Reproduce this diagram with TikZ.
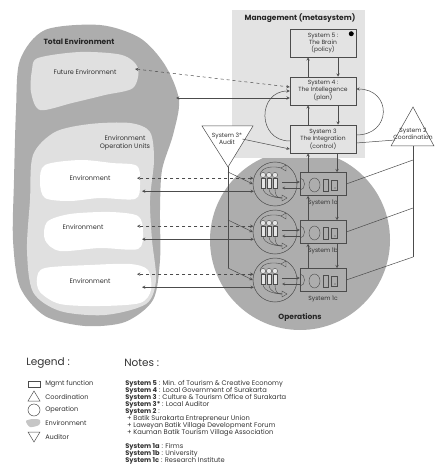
\documentclass[tikz,border=0pt]{standalone}
\usepackage{fontspec}
\setmainfont{Poppins}
\usepackage{tikz}

\definecolor{envdark}{gray}{0.68}
\definecolor{envlight}{gray}{0.88}
\definecolor{mgmtbg}{gray}{0.89}
\definecolor{linegray}{gray}{0.3}
\definecolor{textgray}{gray}{0.2}

\begin{document}
\begin{tikzpicture}[x=1pt, y=-1pt, node distance=48pt, line width=0.5pt,
    font=\fontsize{6}{7}\selectfont, text=textgray]

    % Define styles
    \tikzstyle{mgmt} = [rectangle, draw=linegray, minimum width=66pt, minimum height=28pt, align=center, inner sep=1pt]
    \tikzstyle{sysone} = [rectangle, draw=linegray, minimum width=46pt, minimum height=23pt]
    \tikzstyle{opunit} = [circle, draw=linegray, minimum size=44pt, inner sep=0pt]
    \tikzstyle{heading} = [font=\fontsize{7.5}{8}\selectfont\bfseries, text=black!85]
    \tikzstyle{envtext} = [font=\fontsize{6.5}{7.5}\selectfont, align=center]
    \tikzstyle{legendtext} = [anchor=west, inner sep=0pt, font=\fontsize{6.6}{7}\selectfont]
    \tikzstyle{arrow} = [draw=linegray, ->, >=stealth]
    \tikzstyle{dual} = [draw=linegray, <->, >=stealth]
    \tikzstyle{link} = [draw=linegray]

    \useasboundingbox (0,0) rectangle (434,465);

    % Total environment and its parts
    \fill[envdark] plot[smooth cycle] coordinates {(45,30) (100,25) (140,38) (165,65) (179,100) (173,135)
        (162,170) (160,210) (160,260) (153,300) (125,322) (85,326) (45,316) (20,287) (13,240) (14,180) (16,110) (20,60)};
    \fill[envlight] plot[smooth cycle] coordinates {(38,58) (80,52) (122,55) (138,68) (133,88) (105,95)
        (72,103) (40,110) (31,92) (32,70)};
    \fill[envlight] plot[smooth cycle] coordinates {(55,132) (90,124) (130,123) (150,132) (154,160) (150,200)
        (152,240) (156,280) (146,304) (105,315) (60,311) (33,292) (27,250) (30,200) (33,155)};
    \fill[white] plot[smooth cycle] coordinates {(45,165) (80,160) (112,163) (137,166) (140,185) (135,199)
        (100,198) (70,201) (45,198) (40,182)};
    \fill[white] plot[smooth cycle] coordinates {(70,214) (110,212) (138,216) (143,232) (138,249) (100,248)
        (60,251) (45,240) (47,222)};
    \fill[white] plot[smooth cycle] coordinates {(45,268) (90,265) (130,264) (148,270) (151,290) (140,303)
        (100,306) (60,304) (40,292) (37,278)};

    \node[heading] (totlbl) at (79,42) {Total Environment};
    \node[envtext] (fut) at (85,72) {Future Environment};
    \node[envtext] (eou) at (125,143) {Environment\\Operation Units};
    \node[envtext] (envA) at (90,178) {Environment};
    \node[envtext] (envB) at (83,227) {Environment};
    \node[envtext] (envC) at (90,281) {Environment};

    % Operations and management backgrounds
    \fill[envdark] (300,240) circle (90pt);
    \fill[mgmtbg] (232,10) rectangle (365,158);
    \node[heading] (mgmtlbl) at (300,18) {Management (metasystem)};
    \node[heading] (opslbl) at (300,317) {Operations};

    % Nodes
    \node[mgmt] (sfive) at (323,43) {System 5 :\\The Brain\\(policy)};
    \node[mgmt, below of=sfive] (sfour) {System 4 :\\The Intellegence\\(plan)};
    \node[mgmt, below of=sfour] (sthree) {System 3\\The Integration\\(control)};
    \fill[black] ([xshift=-5pt,yshift=-5pt]sfive.north east) circle (2.5pt);

    \node[sysone] (sysA) at (323,184) {};
    \node[sysone, below of=sysA] (sysB) {};
    \node[sysone, below of=sysB] (sysC) {};
    \node[opunit, left of=sysA] (opA) {};
    \node[opunit, left of=sysB] (opB) {};
    \node[opunit, left of=sysC] (opC) {};
    \node[below of=sysA, node distance=19pt] (lblA) {System 1a};
    \node[below of=sysB, node distance=19pt] (lblB) {System 1b};
    \node[below of=sysC, node distance=19pt] (lblC) {System 1c};

    % Small drawings inside the operation units
    \foreach \u/\s in {opA/sysA, opB/sysB, opC/sysC} {
        \begin{scope}[shift={(\u.center)}, draw=linegray, line width=0.4pt]
            \foreach \dx in {-12,-6,0} {
                \draw (\dx,4) .. controls (\dx,12) and (2,14) .. (7,14);
                \filldraw[fill=gray!20] (\dx,-9) circle (2.6pt);
                \filldraw[fill=gray!20] (\dx-2.2,-6) rectangle (\dx+2.2,4);
            }
            \draw (-15,-9) .. controls (-14,-18) and (0,-18) .. (6,-16);
            \draw (6,-16) -- (11,-19) -- (11,-13) -- cycle;
            \draw (12,14) -- (7,11) -- (7,17) -- cycle;
        \end{scope}
        \begin{scope}[shift={(\s.center)}, draw=linegray, line width=0.4pt]
            \draw (-23,-6) .. controls (-17,-6) and (-17,6) .. (-23,6);
            \draw (-8.5,1) ellipse (5.5pt and 7pt);
            \draw (0,-5) rectangle (5,7);
            \draw (8,-4) rectangle (14,6);
            \fill[linegray] (12,4) circle (0.7pt);
        \end{scope}
        \draw[arrow, line width=0.4pt] ([xshift=7pt,yshift=2pt]\u.center) -- ([yshift=2pt]\s.west);
        \draw[arrow, line width=0.4pt] ([yshift=-4pt]\s.west) -- ([xshift=7pt,yshift=-4pt]\u.center);
    }

    % Auditor and coordination
    \coordinate (audTL) at (202,126);
    \coordinate (audTR) at (253,126);
    \coordinate (audTip) at (228,167);
    \filldraw[fill=white, draw=linegray] (audTL) -- (audTR) -- (audTip) -- cycle;
    \node[align=center, inner sep=0pt] (audit) at (227,139) {System 3*\\Audit};

    \coordinate (coApex) at (413,107);
    \coordinate (coL) at (391,146);
    \coordinate (coR) at (434,146);
    \filldraw[fill=white, draw=linegray] (coApex) -- (coR) -- (coL) -- cycle;
    \node[align=center, inner sep=0pt] (coord) at (413,134) {System 2\\Coordination};

    \coordinate (aud1) at (228,172);
    \coordinate (aud2) at (228,220);
    \coordinate (aud3) at (228,268);
    \coordinate (coBase) at (413,146);
    \coordinate (coIn) at (395,140);
    \coordinate (co1) at (413,160);
    \coordinate (co2) at (413,208);
    \coordinate (co3) at (413,257);

    \coordinate (futR) at (135,69);
    \coordinate (totR) at (176,98);
    \coordinate (envdash) at (137,179);
    \coordinate (envsolid) at (142,191);

    % Arrows
    \draw[arrow] ([xshift=-15pt]sfour.north) -- ([xshift=-15pt]sfive.south);
    \draw[arrow] ([xshift=15pt]sfive.south) -- ([xshift=15pt]sfour.north);
    \draw[arrow] ([xshift=-15pt]sthree.north) -- ([xshift=-15pt]sfour.south);
    \draw[arrow] ([xshift=15pt]sfour.south) -- ([xshift=15pt]sthree.north);
    \draw[arrow] ([xshift=-15pt]sysA.north) -- ([xshift=-15pt]sthree.south);
    \draw[arrow] ([xshift=14pt]sthree.south) -- ([xshift=14pt]sysA.north);
    \draw[arrow] ([xshift=-15pt]sysB.north) -- ([xshift=-15pt]sysA.south);
    \draw[arrow] ([xshift=14pt]sysA.south) -- ([xshift=14pt]sysB.north);
    \draw[arrow] ([xshift=-15pt]sysC.north) -- ([xshift=-15pt]sysB.south);
    \draw[arrow] ([xshift=14pt]sysB.south) -- ([xshift=14pt]sysC.north);

    \draw[arrow] ([yshift=-2pt]sthree.west) .. controls (257,141) and (257,91) .. (sfour.west);
    \draw[arrow] ([yshift=4pt]sthree.east) .. controls (392,135) and (392,89) .. ([yshift=2pt]sfour.east);

    \draw[dual, dashed] (futR) -- ([yshift=4pt]sfour.west);
    \draw[dual] ([yshift=-7pt]sfour.west) -- ([yshift=-7pt]sfour.west -| totR);

    \draw[arrow] (audit.east) -- ([yshift=-10pt]sthree.west);
    \draw[link] (audTip) -- (aud3);
    \draw[arrow] (aud1) -- (opA.west);
    \draw[arrow] (aud2) -- (opB.west);
    \draw[arrow] (aud3) -- (opC.west);

    \draw[link] ([yshift=-4pt]sthree.east) -- (coIn);
    \draw[link] (coBase) -- (co3);
    \draw[link] (co1) -- (sysA.east);
    \draw[link] (co2) -- (sysB.east);
    \draw[link] (co3) -- (sysC.east);

    \draw[dual, dashed] (opA.165) -- (opA.165 -| envdash);
    \draw[dual] (opA.199) -- (opA.199 -| envsolid);
    \draw[dual, dashed] (opB.165) -- (opB.165 -| envdash);
    \draw[dual] (opB.199) -- (opB.199 -| envsolid);
    \draw[dual, dashed] (opC.165) -- (opC.165 -| envdash);
    \draw[dual] (opC.199) -- (opC.199 -| envsolid);

    % Legend
    \node[legendtext, font=\fontsize{10.5}{12}\selectfont] (legend) at (26,363) {Legend :};
    \node[legendtext, font=\fontsize{10.5}{12}\selectfont] (notes) at (124,363) {Notes :};
    \draw[linegray] (28,381) rectangle (40,387);
    \draw[linegray] (34,391) -- (40,401) -- (28,401) -- cycle;
    \draw[linegray] (34,410) circle (6pt);
    \fill[gray!45] plot[smooth cycle] coordinates {(26,421) (33,419) (40,420) (39,425) (30,427)};
    \draw[linegray] (28,432) -- (40,432) -- (34,442) -- cycle;
    \node[legendtext] (lgMgmt) at (45,384) {Mgmt function};
    \node[legendtext] (lgCoord) at (45,397) {Coordination};
    \node[legendtext] (lgOp) at (45,410) {Operation};
    \node[legendtext] (lgEnv) at (45,423) {Environment};
    \node[legendtext] (lgAud) at (45,437) {Auditor};

    \node[anchor=north west, inner sep=0pt, align=left, font=\fontsize{6.7}{7}\selectfont] (notestext) at (125,380.5) {%
        \textbf{System 5} : Min. of Tourism \& Creative Economy\\
        \textbf{System 4} : Local Government of Surakarta\\
        \textbf{System 3} : Culture \& Tourism Office of Surakarta\\
        \textbf{System 3*} : Local Auditor\\
        \textbf{System 2} :\\
        \ + Batik Surakarta Entrepreneur Union\\
        \ + Laweyan Batik Village Development Forum\\
        \ + Kauman Batik Tourism Village Association\\[7pt]
        \textbf{System 1a} : Firms\\
        \textbf{System 1b} : University\\
        \textbf{System 1c} : Research Institute};

\end{tikzpicture}
\end{document}
